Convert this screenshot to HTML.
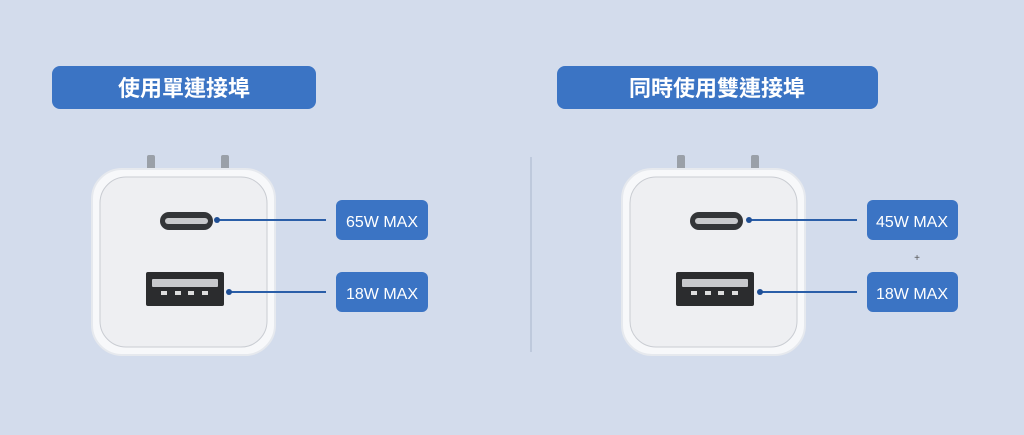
<!DOCTYPE html>
<html><head><meta charset="utf-8"><style>
html,body{margin:0;padding:0;background:#d3dcec;}
svg{display:block;}
</style></head><body>
<svg width="1024" height="435" viewBox="0 0 1024 435" xmlns="http://www.w3.org/2000/svg">
<rect width="1024" height="435" fill="#d3dcec"/>
<defs>
<g id="charger">
  <rect x="55" y="-14" width="8" height="16" rx="2" fill="#9aa0a8"/>
  <rect x="129" y="-14" width="8" height="16" rx="2" fill="#9aa0a8"/>
  <rect x="0" y="0" width="183" height="186" rx="30" fill="#f7f8fa" stroke="#e6e9ee" stroke-width="2"/>
  <rect x="8" y="8" width="167" height="170" rx="26" fill="#eeeff2" stroke="#c9ccd2" stroke-width="1"/>
  <rect x="68" y="43" width="53" height="18" rx="9" fill="#333538"/>
  <rect x="73" y="49" width="43" height="6" rx="3" fill="#c8c9cc"/>
  <rect x="54" y="103" width="78" height="34" rx="2" fill="#2b2c2e"/>
  <rect x="60" y="110" width="66" height="8" rx="1" fill="#c8c9cc"/>
  <rect x="69" y="122" width="6" height="4" fill="#ddd"/>
  <rect x="83" y="122" width="6" height="4" fill="#ddd"/>
  <rect x="96" y="122" width="6" height="4" fill="#ddd"/>
  <rect x="110" y="122" width="6" height="4" fill="#ddd"/>
</g>
</defs>
<!-- headers -->
<rect x="52" y="66" width="264" height="43" rx="8" fill="#3b74c4"/>
<text x="184" y="96" text-anchor="middle" font-family="'Liberation Sans','Noto Sans CJK TC',sans-serif" font-size="22" font-weight="bold" fill="#fff">使用單連接埠</text>
<rect x="557" y="66" width="321" height="43" rx="8" fill="#3b74c4"/>
<text x="717" y="96" text-anchor="middle" font-family="'Liberation Sans','Noto Sans CJK TC',sans-serif" font-size="22" font-weight="bold" fill="#fff">同時使用雙連接埠</text>
<!-- divider -->
<line x1="531" y1="157" x2="531" y2="352" stroke="#a9b6cc" stroke-width="1"/>
<!-- left charger -->
<g transform="translate(92,169)"><use href="#charger"/></g>
<line x1="217" y1="220" x2="326" y2="220" stroke="#2a5ea8" stroke-width="2"/>
<circle cx="217" cy="220" r="3" fill="#1f4f96"/>
<line x1="229" y1="292" x2="326" y2="292" stroke="#2a5ea8" stroke-width="2"/>
<circle cx="229" cy="292" r="3" fill="#1f4f96"/>
<rect x="336" y="200" width="92" height="40" rx="6" fill="#3b74c4"/>
<text x="382" y="227" text-anchor="middle" font-family="'Liberation Sans',sans-serif" font-size="16" fill="#fff">65W MAX</text>
<rect x="336" y="272" width="92" height="40" rx="6" fill="#3b74c4"/>
<text x="382" y="299" text-anchor="middle" font-family="'Liberation Sans',sans-serif" font-size="16" fill="#fff">18W MAX</text>
<!-- right charger -->
<g transform="translate(622,169)"><use href="#charger"/></g>
<line x1="749" y1="220" x2="857" y2="220" stroke="#2a5ea8" stroke-width="2"/>
<circle cx="749" cy="220" r="3" fill="#1f4f96"/>
<line x1="760" y1="292" x2="857" y2="292" stroke="#2a5ea8" stroke-width="2"/>
<circle cx="760" cy="292" r="3" fill="#1f4f96"/>
<rect x="867" y="200" width="91" height="40" rx="6" fill="#3b74c4"/>
<text x="912" y="227" text-anchor="middle" font-family="'Liberation Sans',sans-serif" font-size="16" fill="#fff">45W MAX</text>
<text x="917" y="261" text-anchor="middle" font-family="'Liberation Sans',sans-serif" font-size="10" fill="#555">+</text>
<rect x="867" y="272" width="91" height="40" rx="6" fill="#3b74c4"/>
<text x="912" y="299" text-anchor="middle" font-family="'Liberation Sans',sans-serif" font-size="16" fill="#fff">18W MAX</text>
</svg>
</body></html>
